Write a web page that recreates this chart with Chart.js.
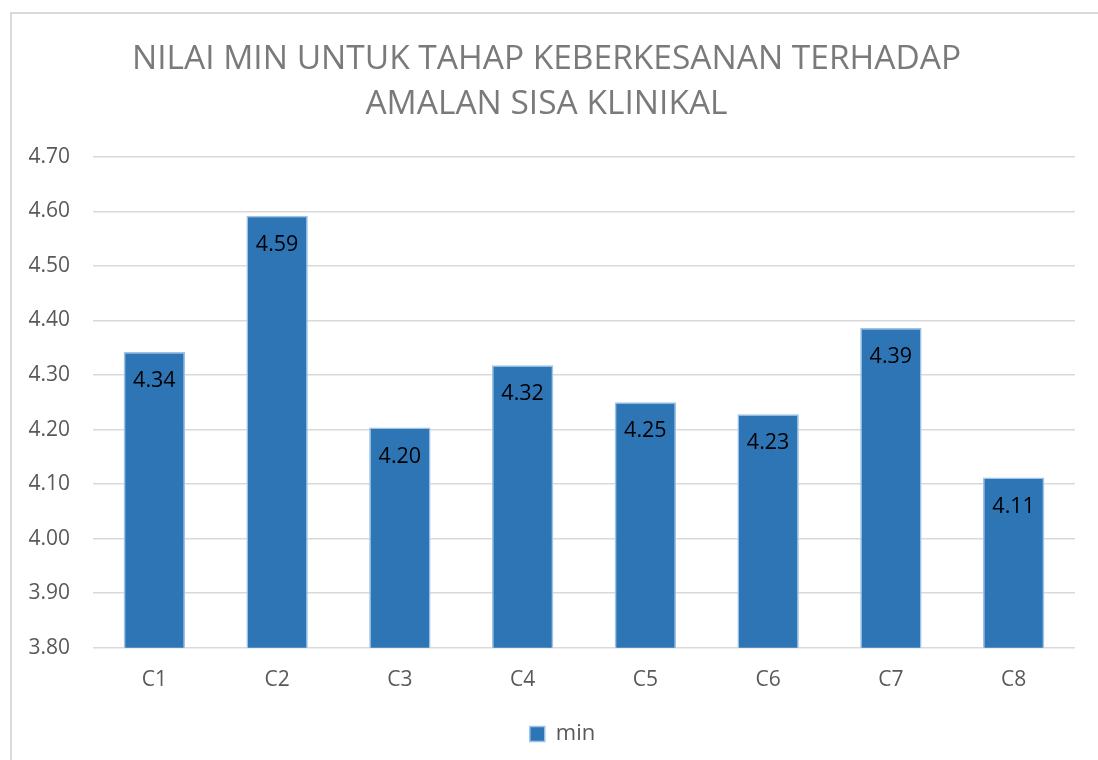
<!DOCTYPE html>
<html>
<head>
<meta charset="utf-8">
<script src="https://cdn.jsdelivr.net/npm/chart.js@4/dist/chart.umd.min.js"></script>
<style>
  html, body { margin: 0; padding: 0; background: #fff; }
  #frame {
    position: absolute; left: 10px; top: 12px;
    width: 1200px; height: 900px;
    border: 2px solid #d9d9d9; box-sizing: border-box;
  }
  #wrap { position: absolute; left: 0; top: 0; width: 1098px; height: 760px; }
</style>
</head>
<body>
<div id="frame"></div>
<div id="wrap"><canvas id="meanChart"></canvas></div>
<script>
const categories = ["C1", "C2", "C3", "C4", "C5", "C6", "C7", "C8"];
const minValues = [4.342, 4.592, 4.204, 4.318, 4.250, 4.228, 4.386, 4.112];
const titleLines = ["NILAI MIN UNTUK TAHAP KEBERKESANAN TERHADAP", "AMALAN SISA KLINIKAL"];
const seriesName = "min";
const axisMin = 3.8;
const axisMax = 4.7;
const axisStep = 0.1;

const fontFamily = "'Open Sans', 'Noto Sans', sans-serif";

// value labels inside the top of each bar
const barLabels = {
  id: "barLabels",
  afterDatasetsDraw(chart) {
    const { ctx } = chart;
    const meta = chart.getDatasetMeta(0);
    ctx.save();
    ctx.font = `21.5px ${fontFamily}`;
    ctx.fillStyle = "#000000";
    ctx.textAlign = "center";
    ctx.textBaseline = "middle";
    meta.data.forEach((bar, i) => {
      ctx.fillText(minValues[i].toFixed(2), bar.x, bar.y + 29);
    });
    ctx.restore();
  }
};

// legend sits a little right of centre, like the original
const legendNudge = {
  id: "legendNudge",
  afterLayout(chart) {
    chart.legend.left += 16;
    chart.legend.right += 16;
  }
};

const chartCanvas = document.getElementById("meanChart");

new Chart(chartCanvas, {
  type: "bar",
  data: {
    labels: categories,
    datasets: [
      {
        label: seriesName,
        data: minValues,
        backgroundColor: "#2e75b6",
        borderColor: "#9dc3e6",
        borderWidth: 1.5,
        categoryPercentage: 1,
        barPercentage: 0.5
      }
    ]
  },
  options: {
    responsive: true,
    maintainAspectRatio: false,
    animation: false,
    layout: {
      padding: { left: 18, right: 23, top: 0, bottom: 5 }
    },
    plugins: {
      title: {
        display: true,
        text: titleLines,
        color: "#7a7a7a",
        font: { family: fontFamily, size: 33.5, weight: "normal", lineHeight: 1.34 },
        padding: { top: 37, bottom: 30 }
      },
      legend: {
        position: "bottom",
        labels: {
          color: "#595959",
          font: { family: fontFamily, size: 22 },
          boxWidth: 15,
          boxHeight: 15,
          padding: 10
        }
      },
      tooltip: { enabled: false }
    },
    scales: {
      x: {
        grid: { display: false, drawTicks: false },
        border: { display: false },
        ticks: {
          color: "#595959",
          font: { family: fontFamily, size: 21 },
          padding: 20
        }
      },
      y: {
        min: axisMin,
        max: axisMax,
        afterFit(scale) {
          scale.width = 75;
        },
        grid: { color: "#d9d9d9", lineWidth: 1.5, drawTicks: false },
        border: { display: false },
        ticks: {
          stepSize: axisStep,
          color: "#595959",
          font: { family: fontFamily, size: 21 },
          padding: 23,
          callback: (value) => value.toFixed(2)
        }
      }
    }
  },
  plugins: [barLabels, legendNudge]
});
</script>
</body>
</html>
